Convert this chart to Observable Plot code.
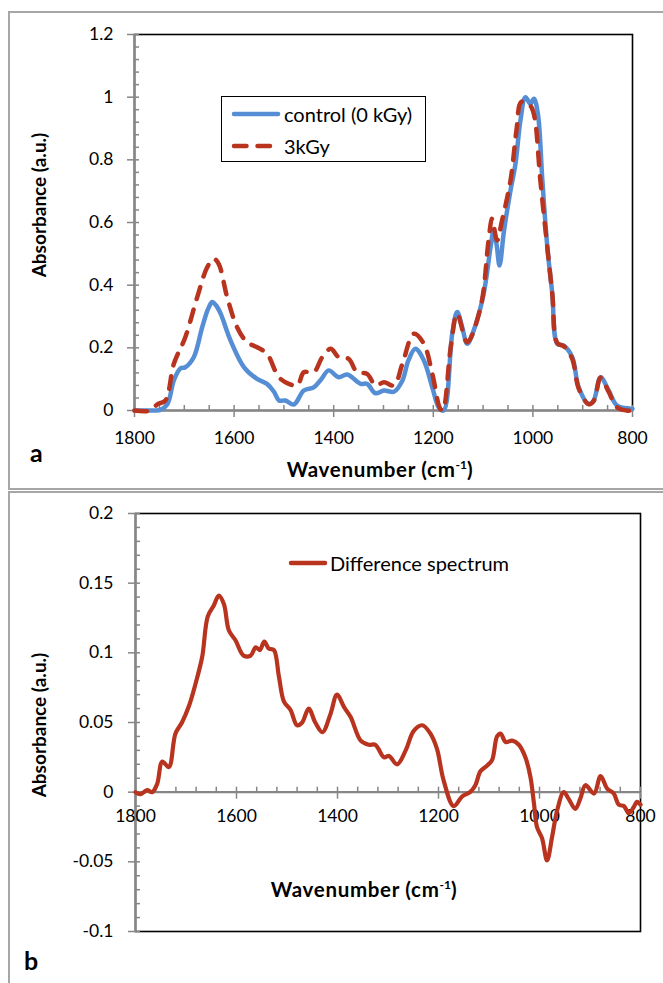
<!DOCTYPE html>
<html><head><meta charset="utf-8">
<script src="https://cdn.jsdelivr.net/npm/d3@7"></script>
<script src="https://cdn.jsdelivr.net/npm/@observablehq/plot@0.6"></script>
<style>
body{margin:0;background:#fff;font-family:Lato,"Open Sans",sans-serif;}
#root{position:relative;width:663px;height:983px;overflow:hidden;background:#fff;}
.abs{position:absolute;}
.frame{position:absolute;border:2px solid #a6a6a6;border-right:none;}
.title{position:absolute;font-weight:bold;color:#000;white-space:nowrap;line-height:1;}
.ytitle{transform:translate(-50%,-50%) rotate(-90deg);font-size:19px;}
.xtitle{transform:translate(-50%,-50%);font-size:20.5px;letter-spacing:0.7px;}
.title sup{font-size:12px;vertical-align:8px;line-height:0;letter-spacing:0;}
.letter{position:absolute;font-weight:bold;font-size:25px;line-height:1;}
.legend{position:absolute;font-size:20px;color:#000;}
.legend .row{position:absolute;display:flex;align-items:center;white-space:nowrap;}
</style>
</head><body>
<div id="root">
  <div class="frame" style="left:8px;top:11px;width:700px;height:475px;"></div>
  <div class="frame" style="left:8px;top:491px;width:700px;height:600px;border-bottom:none;"></div>
  <div id="pa" class="abs" style="left:0;top:0;"></div>
  <div id="pb" class="abs" style="left:0;top:490px;"></div>

  <div class="title ytitle" style="left:38px;top:205px;">Absorbance (a.u.)</div>
  <div class="title xtitle" style="left:380px;top:469px;">Wavenumber (cm<sup>-1</sup>)</div>
  <div class="letter" style="left:30px;top:440px;">a</div>

  <div class="legend" style="left:221px;top:96px;width:203px;height:64px;border:1.5px solid #000;background:#fff;">
    <div class="row" style="left:9px;top:4px;height:26px;">
      <svg width="50" height="10"><line x1="3" y1="5" x2="47" y2="5" stroke="#558ED5" stroke-width="4.5" stroke-linecap="round"/></svg>
      <span style="margin-left:3px;">control (0 kGy)</span>
    </div>
    <div class="row" style="left:9px;top:36px;height:26px;">
      <svg width="50" height="10"><line x1="3" y1="5" x2="47" y2="5" stroke="#B8341F" stroke-width="4.5" stroke-linecap="round" stroke-dasharray="12.5,11"/></svg>
      <span style="margin-left:3px;">3kGy</span>
    </div>
  </div>

  <div class="title ytitle" style="left:38px;top:725px;">Absorbance (a.u.)</div>
  <div class="title xtitle" style="left:364px;top:889px;">Wavenumber (cm<sup>-1</sup>)</div>
  <div class="letter" style="left:24px;top:948px;">b</div>

  <div class="legend" style="left:288px;top:550px;">
    <div class="row" style="left:0;top:0;height:26px;">
      <svg width="40" height="10"><line x1="3" y1="5" x2="37" y2="5" stroke="#B8341F" stroke-width="4.5" stroke-linecap="round"/></svg>
      <span style="margin-left:2px;">Difference spectrum</span>
    </div>
  </div>
</div>
<script>
// ---------- data ----------
const wnControl = [1800,1760,1748,1734,1721,1708,1698,1681,1664,1652,1644,1636,1627,1607,1580,1554,1534,1520,1510,1497,1480,1460,1440,1425,1410,1390,1373,1346,1333,1316,1299,1279,1262,1250,1236,1219,1202,1189,1179,1162,1152,1142,1132,1119,1099,1085,1079,1073,1067,1058,1045,1035,1025,1015,1005,998,990,981,971,961,951,938,921,908,888,878,864,848,831,805,800];
const absControl = [0,0,0.002,0.02,0.096,0.134,0.138,0.17,0.266,0.325,0.346,0.335,0.309,0.223,0.138,0.101,0.085,0.06,0.032,0.032,0.019,0.064,0.074,0.1,0.128,0.106,0.115,0.085,0.085,0.055,0.064,0.06,0.096,0.16,0.197,0.16,0.074,0.01,0,0.245,0.314,0.266,0.213,0.255,0.372,0.521,0.574,0.53,0.463,0.574,0.702,0.787,0.926,1.0,0.979,0.995,0.947,0.734,0.521,0.372,0.213,0.207,0.17,0.074,0.021,0.032,0.106,0.064,0.016,0.006,0.005];

const wn3kGy = [1800,1767,1754,1738,1721,1698,1674,1654,1641,1631,1614,1594,1574,1554,1534,1510,1490,1473,1460,1440,1423,1406,1390,1370,1353,1333,1316,1299,1279,1262,1239,1219,1202,1186,1181,1165,1152,1132,1105,1089,1082,1072,1062,1045,1033,1024,1013,1003,996,985,971,961,951,938,921,908,888,878,864,848,831,812,800];
const abs3kGy = [0,0,0.02,0.032,0.149,0.234,0.362,0.457,0.484,0.468,0.362,0.266,0.218,0.202,0.181,0.106,0.085,0.08,0.122,0.122,0.17,0.197,0.17,0.165,0.122,0.117,0.08,0.09,0.08,0.149,0.245,0.213,0.117,0.005,0,0.202,0.309,0.218,0.33,0.543,0.612,0.543,0.606,0.734,0.894,0.984,0.984,0.968,0.93,0.734,0.52,0.37,0.215,0.205,0.165,0.07,0.02,0.03,0.105,0.06,0.01,0,0];

const wnDiff = [1800,1790,1777,1767,1757,1747,1734,1721,1708,1694,1681,1668,1657,1645,1635,1625,1615,1602,1586,1572,1562,1554,1545,1536,1526,1516,1506,1493,1480,1470,1457,1444,1430,1414,1401,1387,1374,1354,1338,1325,1308,1298,1282,1265,1249,1232,1216,1203,1190,1170,1153,1137,1127,1117,1104,1094,1084,1077,1067,1054,1041,1028,1018,1011,1005,995,985,975,965,952,942,929,919,909,892,879,866,853,843,833,823,813,807,800];
const absDiff = [0,-0.0014,0.0014,0,0.006,0.022,0.018,0.042,0.05,0.062,0.078,0.097,0.126,0.134,0.141,0.135,0.116,0.109,0.098,0.098,0.104,0.102,0.108,0.103,0.102,0.083,0.065,0.059,0.048,0.05,0.06,0.05,0.043,0.056,0.07,0.061,0.054,0.037,0.034,0.034,0.025,0.026,0.02,0.03,0.044,0.048,0.042,0.031,0.0086,-0.01,-0.003,0.0002,0.005,0.015,0.019,0.023,0.04,0.042,0.036,0.037,0.034,0.025,0.011,-0.008,-0.025,-0.033,-0.049,-0.032,-0.013,0,-0.005,-0.012,-0.0045,0.005,-0.001,0.0115,0.0026,-0.001,-0.009,-0.01,-0.015,-0.0105,-0.007,-0.009];

// axis tick values / labels
const xDomain = [1800, 800];
const xTicks = [1800, 1600, 1400, 1200, 1000, 800];
const yTicksA = [0, 0.2, 0.4, 0.6, 0.8, 1, 1.2];
const yTicksB = [-0.1, -0.05, 0, 0.05, 0.1, 0.15, 0.2];

const GRAY = "#868686";
const BLUE = "#558ED5";
const RED = "#B8341F";
const fmt = d => String(d);

function axesMarks({yTicks, yMinor, xMinor, x0, yLabelDx, xLabelDy}) {
  return [
    Plot.frame({stroke: "#000", strokeWidth: 1.6}),
    Plot.ruleY(yTicks, {y: d => d, x1: x0, x2: x0, insetLeft: -7, stroke: GRAY, strokeWidth: 1.5}),
    Plot.ruleY(yMinor, {y: d => d, x1: x0, x2: x0, insetRight: -5, stroke: GRAY, strokeWidth: 1.5}),
    Plot.ruleX(xTicks, {x: d => d, y1: 0, y2: 0, insetBottom: -7, stroke: GRAY, strokeWidth: 1.5}),
    Plot.ruleX(xMinor, {x: d => d, y1: 0, y2: 0, insetTop: -5, stroke: GRAY, strokeWidth: 1.5}),
    Plot.ruleX([x0], {stroke: GRAY, strokeWidth: 2.2}),
    Plot.ruleY([0], {stroke: GRAY, strokeWidth: 2.2}),
    Plot.text(yTicks, {y: d => d, frameAnchor: "left", dx: yLabelDx, textAnchor: "end", text: fmt, fill: "#000"}),
    Plot.text(xTicks, {x: d => d, y: 0, dy: xLabelDy, text: fmt, fill: "#000"})
  ];
}

const style = {fontFamily: "Lato, 'Open Sans', sans-serif", fontSize: "17.5px", background: "transparent", color: "#000", overflow: "visible"};

// ---------- panel a ----------
const ctrl = wnControl.map((w, i) => ({w, a: absControl[i]}));
const k3 = wn3kGy.map((w, i) => ({w, a: abs3kGy[i]}));
const chartA = Plot.plot({
  width: 663, height: 490,
  marginLeft: 134, marginRight: 31, marginTop: 34, marginBottom: 80,
  style,
  x: {domain: xDomain, axis: null},
  y: {domain: [0, 1.2], axis: null},
  marks: [
    ...axesMarks({yTicks: yTicksA, yMinor: d3.range(0, 1.2001, 0.04), xMinor: d3.range(800, 1801, 50), x0: 1800, yLabelDx: -21, xLabelDy: 28}),
    Plot.line(ctrl, {x: "w", y: "a", stroke: BLUE, strokeWidth: 4.5, curve: "catmull-rom"}),
    Plot.line(k3, {x: "w", y: "a", stroke: RED, strokeWidth: 4.5, strokeDasharray: "12.5,11", strokeLinecap: "round", curve: "catmull-rom"})
  ]
});
document.getElementById("pa").appendChild(chartA);

// ---------- panel b ----------
const diff = wnDiff.map((w, i) => ({w, a: absDiff[i]}));
const chartB = Plot.plot({
  width: 663, height: 493,
  marginLeft: 135, marginRight: 23, marginTop: 23, marginBottom: 52,
  style,
  x: {domain: xDomain, axis: null},
  y: {domain: [-0.1, 0.2], axis: null},
  marks: [
    ...axesMarks({yTicks: yTicksB, yMinor: d3.range(-0.1, 0.2001, 0.01), xMinor: d3.range(800, 1801, 40), x0: 1800, yLabelDx: -22, xLabelDy: 24}),
    Plot.line(diff, {x: "w", y: "a", stroke: RED, strokeWidth: 4.2, curve: "catmull-rom"})
  ]
});
document.getElementById("pb").appendChild(chartB);
</script>
</body></html>
